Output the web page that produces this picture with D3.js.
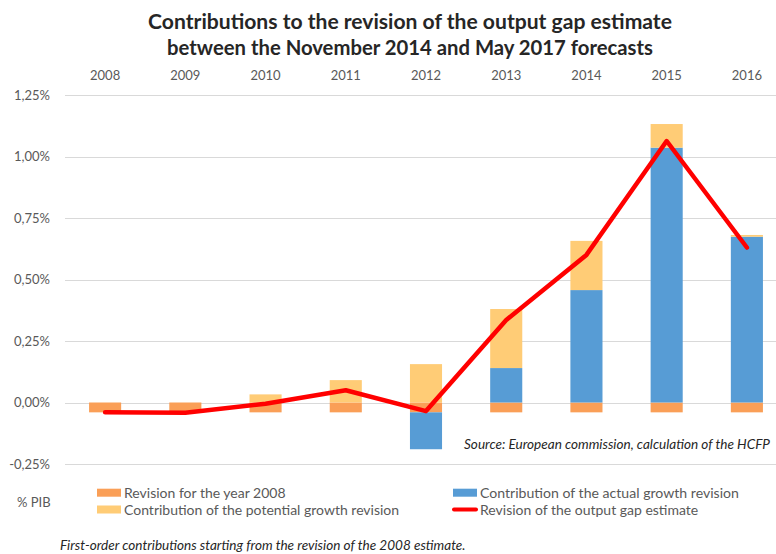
<!DOCTYPE html>
<html>
<head>
<meta charset="utf-8">
<script src="https://cdn.jsdelivr.net/npm/d3@7"></script>
<style>
  html, body { margin: 0; padding: 0; background: #fff; }
  svg { display: block; }
  text { font-family: Lato, "Open Sans", sans-serif; }
</style>
</head>
<body>
<div id="chart"></div>
<script>
// ---- data ----
const years = ["2008", "2009", "2010", "2011", "2012", "2013", "2014", "2015", "2016"];
const revision2008 = [-0.04, -0.04, -0.04, -0.04, -0.04, -0.04, -0.04, -0.04, -0.04];
const actualGrowth = [0, 0, 0, 0, -0.15, 0.14, 0.457, 1.036, 0.674];
const potentialGrowth = [0, 0, 0.033, 0.091, 0.156, 0.24, 0.2, 0.096, 0.007];
const outputGap = [-0.04, -0.042, -0.005, 0.05, -0.035, 0.335, 0.60, 1.063, 0.63];
const yTicks = [-0.25, 0, 0.25, 0.5, 0.75, 1.0, 1.25];
const titleLines = ["Contributions to the revision of the output gap estimate",
                    "between the November 2014 and May 2017 forecasts"];
const seriesNames = {
  rev: "Revision for the year 2008",
  actual: "Contribution of the actual growth revision",
  potential: "Contribution of the potential growth revision",
  gap: "Revision of the output gap estimate"
};
const sourceText = "Source: European commission, calculation of the HCFP";
const unitText = "% PIB";
const footnote = "First-order contributions starting from the revision of the 2008 estimate.";

// ---- setup ----
const W = 776, H = 554;
const colors = { rev: "#FA9F57", actual: "#579CD5", potential: "#FFCC76", gap: "#FF0000" };
const textColor = "#595959";

const svg = d3.select("#chart").append("svg").attr("width", W).attr("height", H);
svg.append("rect").attr("width", W).attr("height", H).attr("fill", "#fff");

function fit(sel, target) {
  const node = sel.node();
  const base = parseFloat(sel.attr("font-size"));
  const w = node.getComputedTextLength();
  if (w > 0) sel.attr("font-size", (base * target / w).toFixed(2));
  return sel;
}

const x = d3.scaleBand().domain(years).range([65, 787]).paddingInner(0.6).paddingOuter(0.3);
const y = d3.scaleLinear().domain([-0.25, 1.25]).range([464, 95]);

// gridlines
svg.append("g").selectAll("line").data(yTicks).join("line")
  .attr("x1", 65).attr("x2", 790)
  .attr("y1", d => Math.round(y(d)) + 0.5).attr("y2", d => Math.round(y(d)) + 0.5)
  .attr("stroke", "#d9d9d9").attr("stroke-width", 1);

// y axis labels
const fmt = d => d3.format(".2f")(d).replace(".", ",").replace("−", "-") + "%";
svg.append("g").selectAll("text").data(yTicks).join("text")
  .attr("x", 50).attr("y", d => y(d) + 4.5)
  .attr("text-anchor", "end").attr("font-size", 13).attr("fill", textColor)
  .text(fmt);

// x axis labels (top)
svg.append("g").selectAll("text").data(years).join("text")
  .attr("x", d => x(d) + x.bandwidth() / 2).attr("y", 80)
  .attr("text-anchor", "middle").attr("font-size", 13).attr("fill", textColor)
  .text(d => d);

// stacked bars
const rows = years.map((yr, i) => ({ year: yr, rev: revision2008[i], actual: actualGrowth[i], potential: potentialGrowth[i] }));
const stack = d3.stack().keys(["rev", "actual", "potential"]).offset(d3.stackOffsetDiverging);
const stacked = stack(rows);
svg.append("g").selectAll("g").data(stacked).join("g")
  .attr("fill", s => colors[s.key])
  .selectAll("rect").data(s => s).join("rect")
  .attr("x", d => x(d.data.year))
  .attr("width", x.bandwidth())
  .attr("y", d => y(Math.max(d[0], d[1])))
  .attr("height", d => Math.abs(y(d[0]) - y(d[1])));

// source text
const src = svg.append("text").attr("x", 770).attr("y", 449).attr("text-anchor", "end")
  .attr("font-size", 12.5).attr("font-style", "italic").attr("fill", "#262626").text(sourceText);
fit(src, 306);

// line
const line = d3.line().x((d, i) => x(years[i]) + x.bandwidth() / 2).y(d => y(d));
svg.append("path").datum(outputGap).attr("d", line)
  .attr("fill", "none").attr("stroke", colors.gap).attr("stroke-width", 4.5)
  .attr("stroke-linejoin", "round").attr("stroke-linecap", "round");

// title
const title = svg.append("g");
titleLines.forEach((t, i) => {
  const tt = title.append("text").attr("x", 410).attr("y", 29 + i * 26)
    .attr("text-anchor", "middle").attr("font-size", 20).attr("font-weight", "bold")
    .attr("fill", "#262626").text(t);
  fit(tt, i === 0 ? 524 : 486);
});

// unit
svg.append("text").attr("x", 17).attr("y", 507).attr("font-size", 13).attr("fill", textColor).text(unitText);

// legend
const legend = [
  { key: "rev", x: 97, y: 492.7, w: 0 },
  { key: "potential", x: 97, y: 509.5, w: 0 },
  { key: "actual", x: 453, y: 492.7, w: 259 },
  { key: "gap", x: 453, y: 509.5, w: 0 }
];
const lg = svg.append("g");
legend.forEach(l => {
  if (l.key === "gap") {
    lg.append("line").attr("x1", l.x + 1).attr("x2", l.x + 23).attr("y1", l.y).attr("y2", l.y)
      .attr("stroke", colors.gap).attr("stroke-width", 4).attr("stroke-linecap", "round");
  } else {
    lg.append("rect").attr("x", l.x).attr("y", l.y - 4).attr("width", 24).attr("height", 8).attr("fill", colors[l.key]);
  }
  const t = lg.append("text").attr("x", l.x + 27).attr("y", l.y + 5).attr("font-size", 14)
    .attr("fill", textColor).text(seriesNames[l.key]);
  if (l.key === "actual") fit(t, 259);
});

// footnote
const fn = svg.append("text").attr("x", 60).attr("y", 550).attr("font-size", 12)
  .attr("font-style", "italic").attr("fill", "#262626").text(footnote);
fit(fn, 406);
</script>
</body>
</html>
